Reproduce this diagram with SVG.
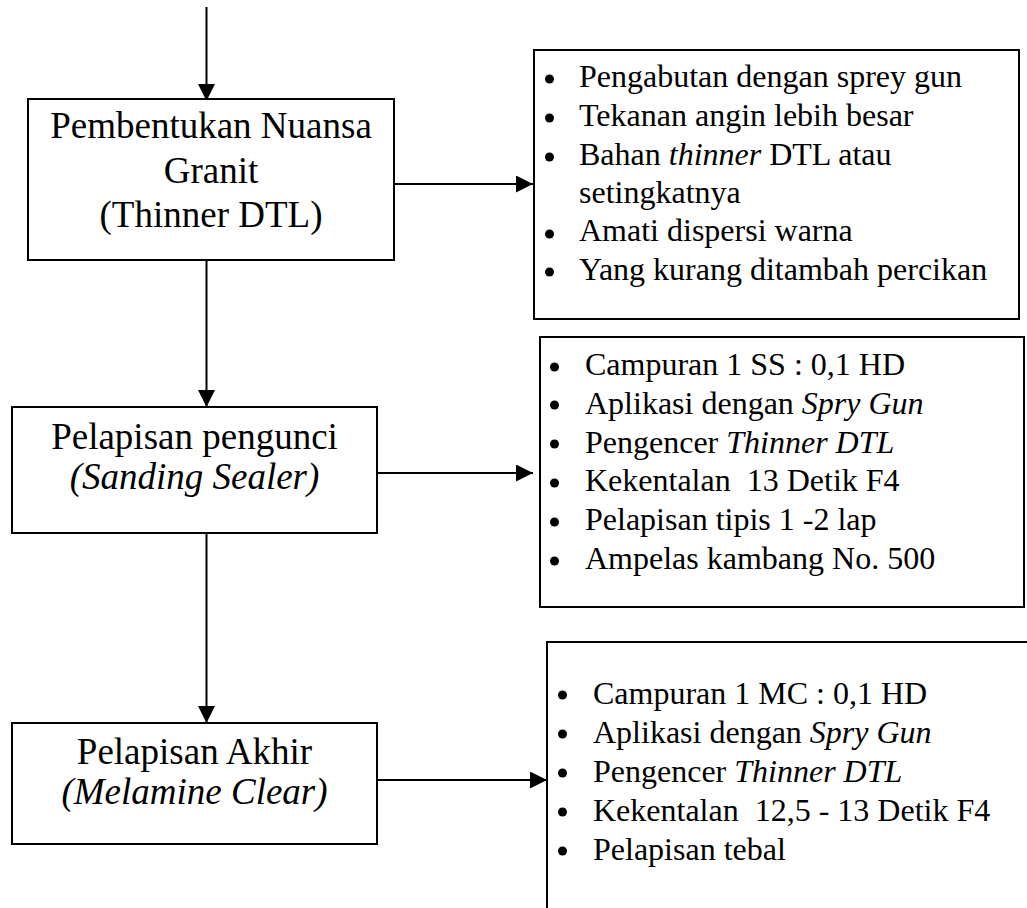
<svg xmlns="http://www.w3.org/2000/svg" width="1027" height="908" viewBox="0 0 1027 908">
<style>
.box{fill:#fff;stroke:#000;stroke-width:2}
.ttl{font-family:"Liberation Serif","Times New Roman",serif;font-size:37px;fill:#000;text-anchor:middle}
.bl{font-family:"Liberation Serif","Times New Roman",serif;font-size:32px;fill:#000}
.it{font-style:italic}
.con{stroke:#000;stroke-width:2;fill:none;marker-end:url(#ah)}
</style>
<defs>
<marker id="ah" markerUnits="userSpaceOnUse" markerWidth="17" markerHeight="17" viewBox="0 0 17 17" refX="17" refY="8.5" orient="auto">
<path d="M0,0 L17,8.5 L0,17 Z" fill="#000"/>
</marker>
</defs>
<g id="connectors">
<path class="con" d="M206.5,7 V101"/>
<path class="con" d="M206.5,260 V407"/>
<path class="con" d="M206.5,533 V723"/>
<path class="con" d="M395,184 H533"/>
<path class="con" d="M377,473 H533"/>
<path class="con" d="M377,780 H547"/>
</g>
<g id="node-granit">
<rect class="box" x="28" y="99" width="366" height="161"/>
<text class="ttl" x="211" y="138">Pembentukan Nuansa</text>
<text class="ttl" x="211" y="183">Granit</text>
<text class="ttl" x="211" y="227">(Thinner DTL)</text>
</g>
<g id="node-pengunci">
<rect class="box" x="12" y="407" width="365" height="126"/>
<text class="ttl" x="194.5" y="449">Pelapisan pengunci</text>
<text class="ttl it" x="194.5" y="489">(Sanding Sealer)</text>
</g>
<g id="node-akhir">
<rect class="box" x="12" y="723" width="365" height="121"/>
<text class="ttl" x="194.5" y="764">Pelapisan Akhir</text>
<text class="ttl it" x="194.5" y="804">(Melamine Clear)</text>
</g>
<g id="node-notes1">
<rect class="box" x="534" y="50" width="485" height="269"/>
<g fill="#000">
<circle cx="549.5" cy="79" r="4.5"/><circle cx="549.5" cy="118" r="4.5"/><circle cx="549.5" cy="157" r="4.5"/><circle cx="549.5" cy="234" r="4.5"/><circle cx="549.5" cy="272" r="4.5"/>
</g>
<text class="bl" x="579" y="87">Pengabutan dengan sprey gun</text>
<text class="bl" x="579" y="126">Tekanan angin lebih besar</text>
<text class="bl" x="579" y="165">Bahan <tspan class="it">thinner</tspan> DTL atau</text>
<text class="bl" x="579" y="203">setingkatnya</text>
<text class="bl" x="579" y="241">Amati dispersi warna</text>
<text class="bl" x="579" y="280">Yang kurang ditambah percikan</text>
</g>
<g id="node-notes2">
<rect class="box" x="540" y="337" width="484" height="270"/>
<g fill="#000">
<circle cx="554.5" cy="367" r="4.5"/><circle cx="554.5" cy="405" r="4.5"/><circle cx="554.5" cy="444" r="4.5"/><circle cx="554.5" cy="483" r="4.5"/><circle cx="554.5" cy="522" r="4.5"/><circle cx="554.5" cy="561" r="4.5"/>
</g>
<text class="bl" x="585" y="375">Campuran 1 SS : 0,1 HD</text>
<text class="bl" x="585" y="414">Aplikasi dengan <tspan class="it">Spry Gun</tspan></text>
<text class="bl" x="585" y="453">Pengencer <tspan class="it">Thinner DTL</tspan></text>
<text class="bl" x="585" y="491">Kekentalan &#160;13 Detik F4</text>
<text class="bl" x="585" y="530">Pelapisan tipis 1 -2 lap</text>
<text class="bl" x="585" y="569">Ampelas kambang No. 500</text>
</g>
<g id="node-notes3">
<rect class="box" x="547" y="642" width="520" height="320"/>
<g fill="#000">
<circle cx="562.5" cy="695" r="4.5"/><circle cx="562.5" cy="734" r="4.5"/><circle cx="562.5" cy="773" r="4.5"/><circle cx="562.5" cy="812" r="4.5"/><circle cx="562.5" cy="851" r="4.5"/>
</g>
<text class="bl" x="593" y="704">Campuran 1 MC : 0,1 HD</text>
<text class="bl" x="593" y="743">Aplikasi dengan <tspan class="it">Spry Gun</tspan></text>
<text class="bl" x="593" y="782">Pengencer <tspan class="it">Thinner DTL</tspan></text>
<text class="bl" x="593" y="821">Kekentalan &#160;12,5 - 13 Detik F4</text>
<text class="bl" x="593" y="860">Pelapisan tebal</text>
</g>
</svg>
